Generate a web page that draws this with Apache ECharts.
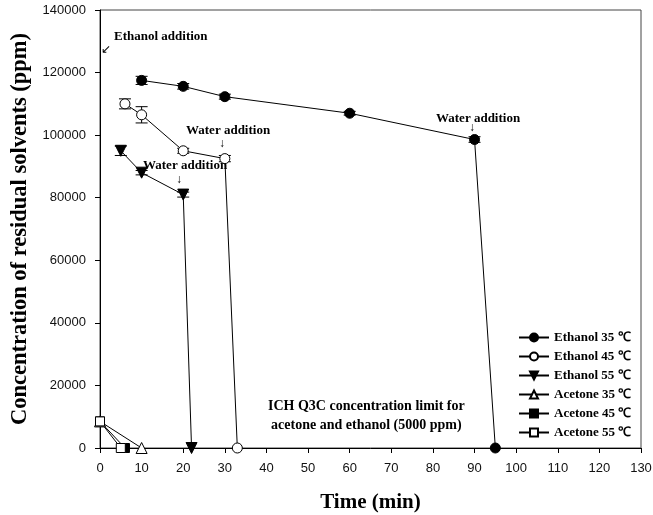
<!DOCTYPE html>
<html>
<head>
<meta charset="utf-8">
<script src="https://cdn.jsdelivr.net/npm/echarts@6/dist/echarts.min.js"></script>
<style>
  html, body { margin: 0; padding: 0; background: #fff; }
  #chart { width: 653px; height: 515px; }
</style>
</head>
<body>
<div id="chart"></div>
<script>
// time (min), concentration (ppm), error (ppm)
var eth35 = [[10, 117500], [20, 115600], [30, 112300], [60, 107000], [90, 98600], [95, 0]];
var eth35Err = [1300, 900, 800, 600, 900, 0];
var eth45 = [[6, 110000], [10, 106500], [20, 95000], [30, 92500], [33, 0]];
var eth45Err = [1600, 2600, 800, 1000, 0];
var eth55 = [[5, 95000], [10, 88000], [20, 81000], [22, 0]];
var eth55Err = [1500, 700, 800, 0];
var ace35 = [[0, 8500], [10, 0]];
var ace45 = [[0, 8500], [6, 0]];
var ace55 = [[0, 8500], [5, 0]];

var xTicks = { min: 0, max: 130, interval: 10 };
var yTicks = { min: 0, max: 140000, interval: 20000 };

var serif = 'Liberation Serif';
var sans = 'Liberation Sans';

function lineSeries(name, data, symbol, filled, rotate, size) {
    return {
        name: name,
        type: 'line',
        data: data,
        symbol: symbol,
        symbolSize: size,
        symbolRotate: rotate,
        showAllSymbol: true,
        lineStyle: { color: '#000', width: 1 },
        itemStyle: { color: filled ? '#000' : '#fff', borderColor: '#000', borderWidth: 1 },
        z: 3
    };
}

function errSeries(data, err) {
    var rows = data.map(function (d, i) { return [d[0], d[1], err[i]]; })
        .filter(function (r) { return r[2] > 0; });
    return {
        type: 'custom',
        data: rows,
        z: 2,
        renderItem: function (params, api) {
            var x = api.value(0), y = api.value(1), e = api.value(2);
            var hi = api.coord([x, y + e]);
            var lo = api.coord([x, y - e]);
            var w = 6;
            var st = { stroke: '#000', lineWidth: 1 };
            return {
                type: 'group',
                children: [
                    { type: 'line', shape: { x1: hi[0], y1: hi[1], x2: lo[0], y2: lo[1] }, style: st },
                    { type: 'line', shape: { x1: hi[0] - w, y1: hi[1], x2: hi[0] + w, y2: hi[1] }, style: st },
                    { type: 'line', shape: { x1: lo[0] - w, y1: lo[1], x2: lo[0] + w, y2: lo[1] }, style: st }
                ]
            };
        }
    };
}

var bold13 = { fontFamily: serif, fontWeight: 'bold', fontSize: 13, fill: '#000' };

var option = {
    animation: false,
    backgroundColor: '#fff',
    grid: {
        left: 100, right: 12, top: 10, bottom: 67,
        outerBoundsMode: 'none', containLabel: false,
        show: true, borderColor: '#444', borderWidth: 1, backgroundColor: 'transparent'
    },
    legend: {
        orient: 'vertical',
        left: 513,
        top: 326,
        itemWidth: 30,
        itemHeight: 10,
        itemGap: 6,
        textStyle: { fontFamily: serif, fontWeight: 'bold', fontSize: 13, color: '#000' },
        data: ['Ethanol 35 ℃', 'Ethanol 45 ℃', 'Ethanol 55 ℃', 'Acetone 35 ℃', 'Acetone 45 ℃', 'Acetone 55 ℃']
    },
    xAxis: {
        type: 'value',
        min: xTicks.min, max: xTicks.max, interval: xTicks.interval,
        name: 'Time (min)',
        nameLocation: 'middle',
        nameGap: 44,
        nameTextStyle: { fontFamily: serif, fontWeight: 'bold', fontSize: 21, color: '#000' },
        axisLine: { lineStyle: { color: '#000' } },
        axisTick: { show: true, inside: false, length: 5, lineStyle: { color: '#000' } },
        axisLabel: { margin: 14, fontFamily: sans, fontSize: 13, color: '#111' },
        splitLine: { show: false }
    },
    yAxis: {
        type: 'value',
        min: yTicks.min, max: yTicks.max, interval: yTicks.interval,
        name: 'Concentration of residual solvents (ppm)',
        nameLocation: 'middle',
        nameGap: 68,
        nameTextStyle: { fontFamily: serif, fontWeight: 'bold', fontSize: 22.5, color: '#000' },
        axisLine: { lineStyle: { color: '#000' } },
        axisTick: { show: true, inside: false, length: 5, lineStyle: { color: '#000' } },
        axisLabel: { margin: 14, fontFamily: sans, fontSize: 13, color: '#111', formatter: function (v) { return String(v); } },
        splitLine: { show: false }
    },
    graphic: [
        { type: 'text', left: 114, top: 30, style: Object.assign({ text: 'Ethanol addition' }, bold13) },
        { type: 'text', left: 101, top: 44, style: { text: '↙', fontSize: 12, fill: '#000', fontFamily: sans } },
        { type: 'text', left: 186, top: 124, style: Object.assign({ text: 'Water addition' }, bold13) },
        { type: 'text', left: 219, top: 138, style: { text: '↓', fontSize: 12, fill: '#000', fontFamily: sans } },
        { type: 'text', left: 143, top: 159, style: Object.assign({ text: 'Water addition' }, bold13) },
        { type: 'text', left: 176, top: 174, style: { text: '↓', fontSize: 12, fill: '#000', fontFamily: sans } },
        { type: 'text', left: 436, top: 112, style: Object.assign({ text: 'Water addition' }, bold13) },
        { type: 'text', left: 469, top: 122, style: { text: '↓', fontSize: 12, fill: '#000', fontFamily: sans } },
        { type: 'text', left: 268, top: 397, style: Object.assign({ text: 'ICH Q3C concentration limit for\nacetone and ethanol (5000 ppm)', textAlign: 'center', lineHeight: 19 }, bold13, { fontSize: 14 }) }
    ],
    series: [
        errSeries(eth35, eth35Err),
        errSeries(eth45, eth45Err),
        errSeries(eth55, eth55Err),
        lineSeries('Ethanol 35 ℃', eth35, 'circle', true, 0, 10),
        lineSeries('Ethanol 45 ℃', eth45, 'circle', false, 0, 10),
        lineSeries('Ethanol 55 ℃', eth55, 'triangle', true, 180, 11),
        lineSeries('Acetone 35 ℃', ace35, 'triangle', false, 0, 11),
        lineSeries('Acetone 45 ℃', ace45, 'rect', true, 0, 9),
        lineSeries('Acetone 55 ℃', ace55, 'rect', false, 0, 9)
    ]
};

var myChart = echarts.init(document.getElementById('chart'));
myChart.setOption(option);
</script>
</body>
</html>
